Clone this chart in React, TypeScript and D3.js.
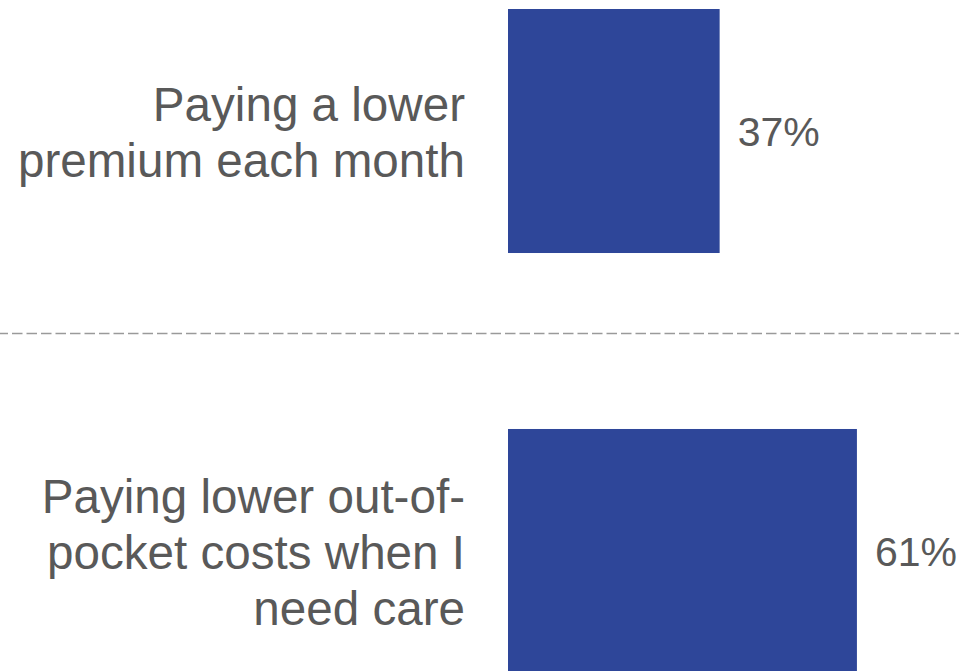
import React from "react";
import * as d3 from "d3";

const categories = ["Paying a lower premium each month", "Paying lower out-of-pocket costs when I need care"];
const labelLines = [
  ["Paying a lower", "premium each month"],
  ["Paying lower out-of-", "pocket costs when I", "need care"],
];
const values = [37, 61];
const valueLabels = ["37%", "61%"];

const W = 959;
const H = 671;
const BAR = "#2e4699";
const TEXT = "#595959";

export default function App() {
  const y = d3.scaleBand<string>().domain(categories).range([9, 673]).paddingInner(0.419).paddingOuter(0);
  const x = d3.scaleLinear().domain([0, 100]).range([508, 1080]);
  const lineH = 56;
  const sepY = 333.5;

  return (
    <svg width={W} height={H} style={{ position: "absolute", left: 0, top: 0, background: "#fff" }}
      fontFamily="'Liberation Sans', Arial, sans-serif">
      <line x1={0} x2={W} y1={sepY} y2={sepY} stroke="#9a9a9a" strokeWidth={1.5}
        strokeDasharray="10.5,4" strokeDashoffset={2.5} />
      {categories.map((c, i) => {
        const y0 = y(c)!;
        const bw = y.bandwidth();
        const cy = y0 + bw / 2;
        const lines = labelLines[i];
        const firstBase = cy + 18 - ((lines.length - 1) * lineH) / 2;
        return (
          <g key={c}>
            <rect x={x(0)} y={y0} width={x(values[i]) - x(0)} height={bw} fill={BAR} />
            <text x={465} textAnchor="end" fontSize={47.6} fill={TEXT}>
              {lines.map((l, j) => (
                <tspan key={j} x={465} y={firstBase + j * lineH}>{l}</tspan>
              ))}
            </text>
            <text x={x(values[i]) + 18} y={cy + 15} fontSize={41} fill={TEXT}>{valueLabels[i]}</text>
          </g>
        );
      })}
    </svg>
  );
}
